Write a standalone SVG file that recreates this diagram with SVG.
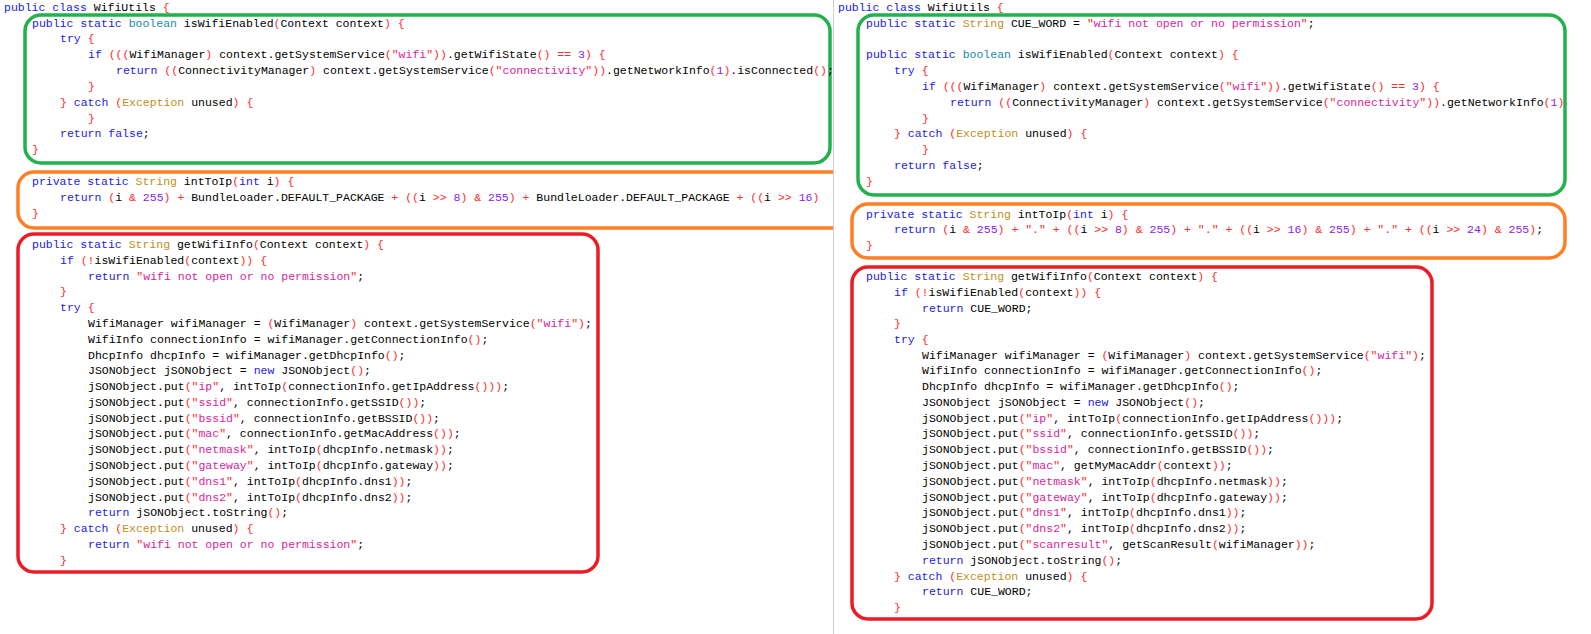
<svg xmlns="http://www.w3.org/2000/svg" width="1591" height="634" viewBox="0 0 1591 634">
<style>
text{font-family:"Liberation Mono","DejaVu Sans Mono",monospace;font-size:11.5px;fill:#000;white-space:pre}
.k{fill:#1a1ae6}.t{fill:#c0901a}.b{fill:#1a8aa6}.p{fill:#ff2a2a}.s{fill:#d81e9a}.n{fill:#8a1ae6}
.box{fill:none;stroke-width:3.5}
</style>
<defs>
<clipPath id="cl"><rect x="0" y="0" width="833" height="634"/></clipPath>
</defs>
<rect width="1591" height="634" fill="#fff"/>
<line x1="833.5" y1="0" x2="833.5" y2="634" stroke="#d0d0d0"/>
<g id="left" clip-path="url(#cl)" xml:space="preserve">
<text x="4" y="11"><tspan class="k">public class</tspan> WifiUtils <tspan class="p">{</tspan></text>
<g id="left-isWifiEnabled">
<rect class="box" x="25" y="15" width="805" height="148" rx="16" stroke="#22b14c"/>
<text x="32" y="27"><tspan class="k">public static</tspan> <tspan class="b">boolean</tspan> isWifiEnabled<tspan class="p">(</tspan>Context context<tspan class="p">) {</tspan></text>
<text x="60" y="42"><tspan class="k">try</tspan> <tspan class="p">{</tspan></text>
<text x="88" y="58"><tspan class="k">if</tspan> <tspan class="p">(((</tspan>WifiManager<tspan class="p">)</tspan> context.getSystemService<tspan class="p">("</tspan><tspan class="s">wifi</tspan><tspan class="p">"))</tspan>.getWifiState<tspan class="p">() ==</tspan> <tspan class="n">3</tspan><tspan class="p">) {</tspan></text>
<text x="116" y="74"><tspan class="k">return</tspan> <tspan class="p">((</tspan>ConnectivityManager<tspan class="p">)</tspan> context.getSystemService<tspan class="p">("</tspan><tspan class="s">connectivity</tspan><tspan class="p">"))</tspan>.getNetworkInfo<tspan class="p">(</tspan><tspan class="n">1</tspan><tspan class="p">)</tspan>.isConnected<tspan class="p">()</tspan>;</text>
<text x="88" y="90"><tspan class="p">}</tspan></text>
<text x="60" y="106"><tspan class="p">}</tspan> <tspan class="k">catch</tspan> <tspan class="p">(</tspan><tspan class="t">Exception</tspan> unused<tspan class="p">) {</tspan></text>
<text x="88" y="122"><tspan class="p">}</tspan></text>
<text x="60" y="137"><tspan class="k">return false</tspan>;</text>
<text x="32" y="153"><tspan class="p">}</tspan></text>
</g>
<g id="left-intToIp">
<rect class="box" x="18" y="172" width="840" height="56" rx="16" stroke="#ff7f27"/>
<text x="32" y="185"><tspan class="k">private static</tspan> <tspan class="t">String</tspan> intToIp<tspan class="p">(</tspan><tspan class="k">int</tspan> i<tspan class="p">) {</tspan></text>
<text x="60" y="201"><tspan class="k">return</tspan> <tspan class="p">(</tspan>i <tspan class="p">&amp;</tspan> <tspan class="n">255</tspan><tspan class="p">) +</tspan> BundleLoader.DEFAULT_PACKAGE <tspan class="p">+ ((</tspan>i <tspan class="p">&gt;&gt;</tspan> <tspan class="n">8</tspan><tspan class="p">) &amp;</tspan> <tspan class="n">255</tspan><tspan class="p">) +</tspan> BundleLoader.DEFAULT_PACKAGE <tspan class="p">+ ((</tspan>i <tspan class="p">&gt;&gt;</tspan> <tspan class="n">16</tspan><tspan class="p">)</tspan></text>
<text x="32" y="217"><tspan class="p">}</tspan></text>
</g>
<g id="left-getWifiInfo">
<rect class="box" x="18" y="234" width="580" height="338" rx="16" stroke="#ed1c24"/>
<text x="32" y="248"><tspan class="k">public static</tspan> <tspan class="t">String</tspan> getWifiInfo<tspan class="p">(</tspan>Context context<tspan class="p">) {</tspan></text>
<text x="60" y="264"><tspan class="k">if</tspan> <tspan class="p">(!</tspan>isWifiEnabled<tspan class="p">(</tspan>context<tspan class="p">)) {</tspan></text>
<text x="88" y="280"><tspan class="k">return</tspan> <tspan class="p">"</tspan><tspan class="s">wifi not open or no permission</tspan><tspan class="p">"</tspan>;</text>
<text x="60" y="295"><tspan class="p">}</tspan></text>
<text x="60" y="311"><tspan class="k">try</tspan> <tspan class="p">{</tspan></text>
<text x="88" y="327">WifiManager wifiManager = <tspan class="p">(</tspan>WifiManager<tspan class="p">)</tspan> context.getSystemService<tspan class="p">("</tspan><tspan class="s">wifi</tspan><tspan class="p">")</tspan>;</text>
<text x="88" y="343">WifiInfo connectionInfo = wifiManager.getConnectionInfo<tspan class="p">()</tspan>;</text>
<text x="88" y="359">DhcpInfo dhcpInfo = wifiManager.getDhcpInfo<tspan class="p">()</tspan>;</text>
<text x="88" y="374">JSONObject jSONObject = <tspan class="k">new</tspan> JSONObject<tspan class="p">()</tspan>;</text>
<text x="88" y="390">jSONObject.put<tspan class="p">("</tspan><tspan class="s">ip</tspan><tspan class="p">"</tspan>, intToIp<tspan class="p">(</tspan>connectionInfo.getIpAddress<tspan class="p">()))</tspan>;</text>
<text x="88" y="406">jSONObject.put<tspan class="p">("</tspan><tspan class="s">ssid</tspan><tspan class="p">"</tspan>, connectionInfo.getSSID<tspan class="p">())</tspan>;</text>
<text x="88" y="422">jSONObject.put<tspan class="p">("</tspan><tspan class="s">bssid</tspan><tspan class="p">"</tspan>, connectionInfo.getBSSID<tspan class="p">())</tspan>;</text>
<text x="88" y="437">jSONObject.put<tspan class="p">("</tspan><tspan class="s">mac</tspan><tspan class="p">"</tspan>, connectionInfo.getMacAddress<tspan class="p">())</tspan>;</text>
<text x="88" y="453">jSONObject.put<tspan class="p">("</tspan><tspan class="s">netmask</tspan><tspan class="p">"</tspan>, intToIp<tspan class="p">(</tspan>dhcpInfo.netmask<tspan class="p">))</tspan>;</text>
<text x="88" y="469">jSONObject.put<tspan class="p">("</tspan><tspan class="s">gateway</tspan><tspan class="p">"</tspan>, intToIp<tspan class="p">(</tspan>dhcpInfo.gateway<tspan class="p">))</tspan>;</text>
<text x="88" y="485">jSONObject.put<tspan class="p">("</tspan><tspan class="s">dns1</tspan><tspan class="p">"</tspan>, intToIp<tspan class="p">(</tspan>dhcpInfo.dns1<tspan class="p">))</tspan>;</text>
<text x="88" y="501">jSONObject.put<tspan class="p">("</tspan><tspan class="s">dns2</tspan><tspan class="p">"</tspan>, intToIp<tspan class="p">(</tspan>dhcpInfo.dns2<tspan class="p">))</tspan>;</text>
<text x="88" y="516"><tspan class="k">return</tspan> jSONObject.toString<tspan class="p">()</tspan>;</text>
<text x="60" y="532"><tspan class="p">}</tspan> <tspan class="k">catch</tspan> <tspan class="p">(</tspan><tspan class="t">Exception</tspan> unused<tspan class="p">) {</tspan></text>
<text x="88" y="548"><tspan class="k">return</tspan> <tspan class="p">"</tspan><tspan class="s">wifi not open or no permission</tspan><tspan class="p">"</tspan>;</text>
<text x="60" y="564"><tspan class="p">}</tspan></text>
</g>
</g>
<g id="right" xml:space="preserve">
<text x="838" y="11"><tspan class="k">public class</tspan> WifiUtils <tspan class="p">{</tspan></text>
<g id="right-isWifiEnabled">
<text x="866" y="27"><tspan class="k">public static</tspan> <tspan class="t">String</tspan> CUE_WORD = <tspan class="p">"</tspan><tspan class="s">wifi not open or no permission</tspan><tspan class="p">"</tspan>;</text>
<text x="866" y="58"><tspan class="k">public static</tspan> <tspan class="b">boolean</tspan> isWifiEnabled<tspan class="p">(</tspan>Context context<tspan class="p">) {</tspan></text>
<text x="894" y="74"><tspan class="k">try</tspan> <tspan class="p">{</tspan></text>
<text x="922" y="90"><tspan class="k">if</tspan> <tspan class="p">(((</tspan>WifiManager<tspan class="p">)</tspan> context.getSystemService<tspan class="p">("</tspan><tspan class="s">wifi</tspan><tspan class="p">"))</tspan>.getWifiState<tspan class="p">() ==</tspan> <tspan class="n">3</tspan><tspan class="p">) {</tspan></text>
<text x="950" y="106"><tspan class="k">return</tspan> <tspan class="p">((</tspan>ConnectivityManager<tspan class="p">)</tspan> context.getSystemService<tspan class="p">("</tspan><tspan class="s">connectivity</tspan><tspan class="p">"))</tspan>.getNetworkInfo<tspan class="p">(</tspan><tspan class="n">1</tspan><tspan class="p">)</tspan></text>
<text x="922" y="122"><tspan class="p">}</tspan></text>
<text x="894" y="137"><tspan class="p">}</tspan> <tspan class="k">catch</tspan> <tspan class="p">(</tspan><tspan class="t">Exception</tspan> unused<tspan class="p">) {</tspan></text>
<text x="922" y="153"><tspan class="p">}</tspan></text>
<text x="894" y="169"><tspan class="k">return false</tspan>;</text>
<text x="866" y="185"><tspan class="p">}</tspan></text>
<rect class="box" x="858" y="15" width="707" height="180" rx="16" stroke="#22b14c"/>
</g>
<g id="right-intToIp">
<rect class="box" x="852" y="204" width="713" height="54" rx="16" stroke="#ff7f27"/>
<text x="866" y="218"><tspan class="k">private static</tspan> <tspan class="t">String</tspan> intToIp<tspan class="p">(</tspan><tspan class="k">int</tspan> i<tspan class="p">) {</tspan></text>
<text x="894" y="233"><tspan class="k">return</tspan> <tspan class="p">(</tspan>i <tspan class="p">&amp;</tspan> <tspan class="n">255</tspan><tspan class="p">) + "</tspan><tspan class="s">.</tspan><tspan class="p">" + ((</tspan>i <tspan class="p">&gt;&gt;</tspan> <tspan class="n">8</tspan><tspan class="p">) &amp;</tspan> <tspan class="n">255</tspan><tspan class="p">) + "</tspan><tspan class="s">.</tspan><tspan class="p">" + ((</tspan>i <tspan class="p">&gt;&gt;</tspan> <tspan class="n">16</tspan><tspan class="p">) &amp;</tspan> <tspan class="n">255</tspan><tspan class="p">) + "</tspan><tspan class="s">.</tspan><tspan class="p">" + ((</tspan>i <tspan class="p">&gt;&gt;</tspan> <tspan class="n">24</tspan><tspan class="p">) &amp;</tspan> <tspan class="n">255</tspan><tspan class="p">)</tspan>;</text>
<text x="866" y="249"><tspan class="p">}</tspan></text>
</g>
<g id="right-getWifiInfo">
<rect class="box" x="852" y="267" width="580" height="352" rx="16" stroke="#ed1c24"/>
<text x="866" y="280"><tspan class="k">public static</tspan> <tspan class="t">String</tspan> getWifiInfo<tspan class="p">(</tspan>Context context<tspan class="p">) {</tspan></text>
<text x="894" y="296"><tspan class="k">if</tspan> <tspan class="p">(!</tspan>isWifiEnabled<tspan class="p">(</tspan>context<tspan class="p">)) {</tspan></text>
<text x="922" y="312"><tspan class="k">return</tspan> CUE_WORD;</text>
<text x="894" y="327"><tspan class="p">}</tspan></text>
<text x="894" y="343"><tspan class="k">try</tspan> <tspan class="p">{</tspan></text>
<text x="922" y="359">WifiManager wifiManager = <tspan class="p">(</tspan>WifiManager<tspan class="p">)</tspan> context.getSystemService<tspan class="p">("</tspan><tspan class="s">wifi</tspan><tspan class="p">")</tspan>;</text>
<text x="922" y="374">WifiInfo connectionInfo = wifiManager.getConnectionInfo<tspan class="p">()</tspan>;</text>
<text x="922" y="390">DhcpInfo dhcpInfo = wifiManager.getDhcpInfo<tspan class="p">()</tspan>;</text>
<text x="922" y="406">JSONObject jSONObject = <tspan class="k">new</tspan> JSONObject<tspan class="p">()</tspan>;</text>
<text x="922" y="422">jSONObject.put<tspan class="p">("</tspan><tspan class="s">ip</tspan><tspan class="p">"</tspan>, intToIp<tspan class="p">(</tspan>connectionInfo.getIpAddress<tspan class="p">()))</tspan>;</text>
<text x="922" y="437">jSONObject.put<tspan class="p">("</tspan><tspan class="s">ssid</tspan><tspan class="p">"</tspan>, connectionInfo.getSSID<tspan class="p">())</tspan>;</text>
<text x="922" y="453">jSONObject.put<tspan class="p">("</tspan><tspan class="s">bssid</tspan><tspan class="p">"</tspan>, connectionInfo.getBSSID<tspan class="p">())</tspan>;</text>
<text x="922" y="469">jSONObject.put<tspan class="p">("</tspan><tspan class="s">mac</tspan><tspan class="p">"</tspan>, getMyMacAddr<tspan class="p">(</tspan>context<tspan class="p">))</tspan>;</text>
<text x="922" y="485">jSONObject.put<tspan class="p">("</tspan><tspan class="s">netmask</tspan><tspan class="p">"</tspan>, intToIp<tspan class="p">(</tspan>dhcpInfo.netmask<tspan class="p">))</tspan>;</text>
<text x="922" y="501">jSONObject.put<tspan class="p">("</tspan><tspan class="s">gateway</tspan><tspan class="p">"</tspan>, intToIp<tspan class="p">(</tspan>dhcpInfo.gateway<tspan class="p">))</tspan>;</text>
<text x="922" y="516">jSONObject.put<tspan class="p">("</tspan><tspan class="s">dns1</tspan><tspan class="p">"</tspan>, intToIp<tspan class="p">(</tspan>dhcpInfo.dns1<tspan class="p">))</tspan>;</text>
<text x="922" y="532">jSONObject.put<tspan class="p">("</tspan><tspan class="s">dns2</tspan><tspan class="p">"</tspan>, intToIp<tspan class="p">(</tspan>dhcpInfo.dns2<tspan class="p">))</tspan>;</text>
<text x="922" y="548">jSONObject.put<tspan class="p">("</tspan><tspan class="s">scanresult</tspan><tspan class="p">"</tspan>, getScanResult<tspan class="p">(</tspan>wifiManager<tspan class="p">))</tspan>;</text>
<text x="922" y="564"><tspan class="k">return</tspan> jSONObject.toString<tspan class="p">()</tspan>;</text>
<text x="894" y="580"><tspan class="p">}</tspan> <tspan class="k">catch</tspan> <tspan class="p">(</tspan><tspan class="t">Exception</tspan> unused<tspan class="p">) {</tspan></text>
<text x="922" y="595"><tspan class="k">return</tspan> CUE_WORD;</text>
<text x="894" y="611"><tspan class="p">}</tspan></text>
</g>
</g>
<g id="connectors"/>
</svg>
